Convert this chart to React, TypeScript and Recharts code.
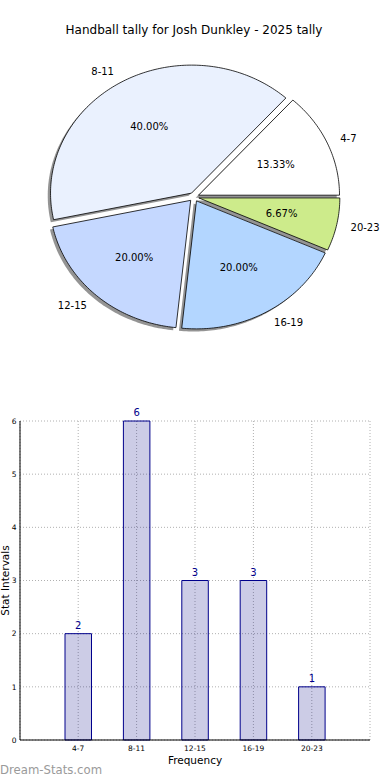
import React from 'react';
import { PieChart, Pie, Cell, BarChart, Bar, XAxis, YAxis, CartesianGrid, LabelList } from 'recharts';

const categories = ['4-7', '8-11', '12-15', '16-19', '20-23'];
const counts = [2, 6, 3, 3, 1];
const yTicks = [0, 1, 2, 3, 4, 5, 6];
const titleText = 'Handball tally for Josh Dunkley - 2025 tally';

const pieColors = ['#ffffff', '#eaf1fe', '#c5d8ff', '#b3d6ff', '#cdeb8b'];

const pieData = categories.map((name, i) => ({ name, value: counts[i] }));
const barData = categories.map((name, i) => ({ name, value: counts[i] }));
const total = counts.reduce((a, b) => a + b, 0);

const FONT = '"DejaVu Sans", sans-serif';
const RATIO = 128 / 141;
const EXPL = 0.035;
const RAD = Math.PI / 180;

function wedgePath(cx: number, cy: number, rx: number, ry: number, a0: number, a1: number) {
  const parts = [`M${cx},${cy}`];
  const n = Math.max(2, Math.ceil(Math.abs(a1 - a0)));
  for (let i = 0; i <= n; i++) {
    const a = (a0 + ((a1 - a0) * i) / n) * RAD;
    parts.push(`L${cx + rx * Math.cos(a)},${cy - ry * Math.sin(a)}`);
  }
  parts.push('Z');
  return parts.join(' ');
}

function explodedCenter(cx: number, cy: number, rx: number, ry: number, mid: number) {
  return [cx + EXPL * rx * Math.cos(mid * RAD), cy - EXPL * ry * Math.sin(mid * RAD)];
}

const WedgeShape = (p: any) => {
  const rx = p.outerRadius;
  const ry = rx * RATIO;
  const mid = (p.startAngle + p.endAngle) / 2;
  const [ox, oy] = explodedCenter(p.cx, p.cy, rx, ry, mid);
  return (
    <path
      d={wedgePath(ox, oy, rx, ry, p.startAngle, p.endAngle)}
      fill={p.fill}
      stroke="#000"
      strokeWidth={0.8}
      strokeLinejoin="round"
    />
  );
};

const ShadowShape = (p: any) => {
  const rx = p.outerRadius;
  const ry = rx * RATIO;
  const mid = (p.startAngle + p.endAngle) / 2;
  const [ox, oy] = explodedCenter(p.cx, p.cy, rx, ry, mid);
  return (
    <path
      d={wedgePath(ox - 2.8, oy + 2.6, rx, ry, p.startAngle, p.endAngle)}
      fill="#000"
      fillOpacity={0.42}
      stroke="none"
    />
  );
};

const renderPieLabel = (p: any) => {
  const rx = p.outerRadius;
  const ry = rx * RATIO;
  const mid = p.midAngle;
  const [ox, oy] = explodedCenter(p.cx, p.cy, rx, ry, mid);
  const c = Math.cos(mid * RAD);
  const s = Math.sin(mid * RAD);
  const lx = ox + 1.1 * rx * c;
  const ly = oy - 1.1 * ry * s;
  const px = ox + 0.6 * rx * c;
  const py = oy - 0.6 * ry * s;
  const name = p.payload?.name ?? p.name;
  const val = p.payload?.value ?? p.value;
  const pct = ((val / total) * 100).toFixed(2) + '%';
  return (
    <g>
      <text x={lx} y={ly + 3.6} textAnchor={c >= 0 ? 'start' : 'end'} fontSize={10} fontFamily={FONT} fill="#000">
        {name}
      </text>
      <text x={px} y={py + 3.6} textAnchor="middle" fontSize={10} fontFamily={FONT} fill="#000">
        {pct}
      </text>
    </g>
  );
};

const XTick = (p: any) => (
  <text x={p.x} y={p.y + 10.5} textAnchor="middle" fontSize={7.5} fontFamily={FONT} fill="#000">
    {p.payload.value}
  </text>
);

const YTick = (p: any) => (
  <text x={p.x - 3.5} y={p.y + 2.8} textAnchor="end" fontSize={7.5} fontFamily={FONT} fill="#000">
    {p.payload.value}
  </text>
);

export default function App() {
  return (
    <div style={{ position: 'absolute', left: 0, top: 0, width: 390, height: 780, background: '#fff', overflow: 'hidden' }}>
      <div style={{ position: 'absolute', left: 0, top: 0 }}>
        <PieChart width={390} height={360} margin={{ top: 0, right: 0, bottom: 0, left: 0 }}>
          <text x={194} y={34} textAnchor="middle" fontSize={12} fontFamily={FONT} fill="#000">
            {titleText}
          </text>
          <Pie
            data={pieData}
            dataKey="value"
            nameKey="name"
            cx={194}
            cy={197}
            outerRadius={141}
            startAngle={0}
            endAngle={360}
            shape={ShadowShape}
            isAnimationActive={false}
            label={false}
            labelLine={false}
          />
          <Pie
            data={pieData}
            dataKey="value"
            nameKey="name"
            cx={194}
            cy={197}
            outerRadius={141}
            startAngle={0}
            endAngle={360}
            shape={WedgeShape}
            isAnimationActive={false}
            label={renderPieLabel}
            labelLine={false}
          >
            {pieData.map((d, i) => (
              <Cell key={d.name} fill={pieColors[i]} />
            ))}
          </Pie>
        </PieChart>
      </div>
      <div style={{ position: 'absolute', left: 0, top: 400 }}>
        <BarChart width={390} height={380} data={barData} margin={{ top: 21, right: 20, bottom: 0, left: 0 }}>
          <CartesianGrid stroke="#b0b0b0" strokeDasharray="1 2" />
          <XAxis
            dataKey="name"
            height={40}
            padding={{ left: 29, right: 29 }}
            tickSize={0}
            tickMargin={0}
            tick={XTick}
            interval={0}
            axisLine={{ stroke: '#000', strokeWidth: 1 }}
          />
          <XAxis
            xAxisId="top"
            dataKey="name"
            orientation="top"
            height={0}
            padding={{ left: 29, right: 29 }}
            tick={false}
            tickLine={false}
            axisLine={{ stroke: '#000', strokeWidth: 1 }}
          />
          <YAxis
            width={20}
            domain={[0, 6]}
            ticks={yTicks}
            interval={0}
            tickSize={0}
            tickMargin={0}
            tick={YTick}
            axisLine={{ stroke: '#000', strokeWidth: 1 }}
          />
          <YAxis
            yAxisId="right"
            orientation="right"
            width={0}
            domain={[0, 6]}
            ticks={yTicks}
            tick={false}
            tickLine={false}
            axisLine={{ stroke: '#000', strokeWidth: 1 }}
          />
          <Bar
            dataKey="value"
            fill="#000080"
            fillOpacity={0.2}
            stroke="#00008b"
            strokeOpacity={1}
            strokeWidth={1}
            barSize={26.5}
            isAnimationActive={false}
          >
            <LabelList dataKey="value" position="top" offset={5} fill="#00008b" fillOpacity={1} fontSize={10} fontFamily={FONT} />
          </Bar>
          <text x={195} y={364} textAnchor="middle" fontSize={10.5} fontFamily={FONT} fill="#000">
            Frequency
          </text>
          <text x={8.5} y={180.5} transform="rotate(-90 8.5 180.5)" textAnchor="middle" fontSize={10.5} fontFamily={FONT} fill="#000">
            Stat Intervals
          </text>
          <text x={0} y={374} textAnchor="start" fontSize={11.7} fontFamily={FONT} fill="#9a9a9a">
            Dream-Stats.com
          </text>
        </BarChart>
      </div>
    </div>
  );
}
